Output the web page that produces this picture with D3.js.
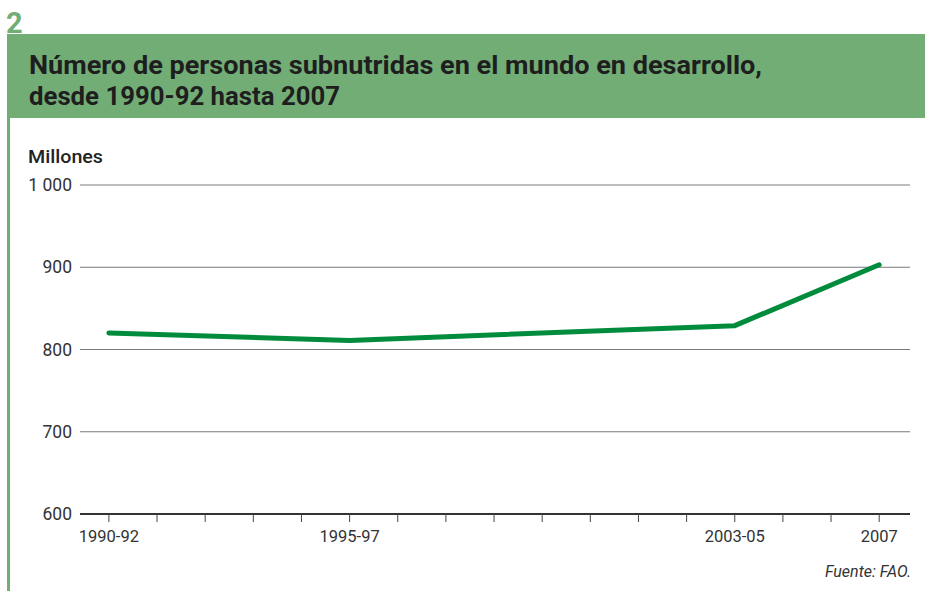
<!DOCTYPE html>
<html>
<head>
<meta charset="utf-8">
<script src="https://cdn.jsdelivr.net/npm/d3@7"></script>
<style>
  body { margin: 0; background: #fff; }
  text { font-family: Roboto, "Noto Sans", sans-serif; }
</style>
</head>
<body>
<svg id="chart" width="925" height="591"></svg>
<script>
// data
const periods = ["1990-92", "1995-97", "2003-05", "2007"];
const midYears = [1991, 1996, 2004, 2007];
const millions = [820, 811, 829, 903];
const yTicks = [600, 700, 800, 900, 1000];
const tickYears = d3.range(1991, 2008);

const svg = d3.select("#chart");
const green = "#72ad76";

// header band + number
svg.append("text")
  .attr("x", 6).attr("y", 33)
  .style("font-size", "29px").style("font-weight", "bold")
  .attr("fill", green)
  .text("2");

svg.append("rect")
  .attr("x", 7).attr("y", 34)
  .attr("width", 918).attr("height", 84)
  .attr("fill", green);

svg.append("rect")
  .attr("x", 7).attr("y", 118)
  .attr("width", 3).attr("height", 473)
  .attr("fill", green);

const titleLines = [
  "Número de personas subnutridas en el mundo en desarrollo,",
  "desde 1990-92 hasta 2007"
];
const titleWidths = [733, 311];
svg.append("g")
  .selectAll("text")
  .data(titleLines)
  .join("text")
  .attr("x", 29)
  .attr("y", (d, i) => 74 + i * 31)
  .attr("textLength", (d, i) => titleWidths[i])
  .attr("lengthAdjust", "spacingAndGlyphs")
  .style("font-size", "26px")
  .style("font-weight", "bold")
  .attr("fill", "#1e1e1e")
  .text((d) => d);

// scales
var x = d3.scaleLinear().domain([1990.4, 2007.64]).range([80, 910]);
var y = d3.scaleLinear().domain([600, 1000]).range([514, 185]);

svg.append("text")
  .attr("x", 28).attr("y", 163)
  .attr("textLength", 75)
  .attr("lengthAdjust", "spacingAndGlyphs")
  .style("font-size", "18px")
  .style("font-weight", 500)
  .attr("fill", "#222")
  .text("Millones");

// gridlines
svg.append("g")
  .selectAll("line")
  .data(yTicks.filter((d) => d > 600))
  .join("line")
  .attr("x1", 80).attr("x2", 910)
  .attr("y1", (d) => y(d)).attr("y2", (d) => y(d))
  .attr("stroke", "#7a7a7a")
  .attr("stroke-width", 1);

svg.append("g")
  .selectAll("text")
  .data(yTicks)
  .join("text")
  .attr("x", 72)
  .attr("y", (d) => y(d) + 6)
  .attr("text-anchor", "end")
  .style("font-size", "17.5px")
  .attr("fill", "#333")
  .text((d) => d3.format(",")(d).replace(",", " "));

// x axis
const xAxis = svg.append("g").attr("transform", "translate(0," + y(600) + ")");
xAxis.append("line")
  .attr("x1", 80).attr("x2", 910)
  .attr("stroke", "#333").attr("stroke-width", 2);
xAxis.selectAll(".tk")
  .data(tickYears)
  .join("line")
  .attr("class", "tk")
  .attr("x1", (d) => x(d)).attr("x2", (d) => x(d))
  .attr("y1", 0).attr("y2", 8)
  .attr("stroke", "#444").attr("stroke-width", 1);
xAxis.selectAll(".lbl")
  .data(periods)
  .join("text")
  .attr("class", "lbl")
  .attr("x", (d, i) => x(midYears[i]))
  .attr("y", 28)
  .attr("text-anchor", "middle")
  .style("font-size", "16.5px")
  .attr("fill", "#333")
  .text((d) => d);

// line
var line = d3.line()
  .x((d, i) => x(midYears[i]))
  .y((d) => y(d));

svg.append("path")
  .datum(millions)
  .attr("d", line)
  .attr("fill", "none")
  .attr("stroke", "#008c3c")
  .attr("stroke-width", 5)
  .attr("stroke-linecap", "round")
  .attr("stroke-linejoin", "round");

svg.append("text")
  .attr("x", 911).attr("y", 577)
  .attr("text-anchor", "end")
  .style("font-size", "16px")
  .style("font-style", "italic")
  .attr("fill", "#333")
  .text("Fuente: FAO.");
</script>
</body>
</html>
